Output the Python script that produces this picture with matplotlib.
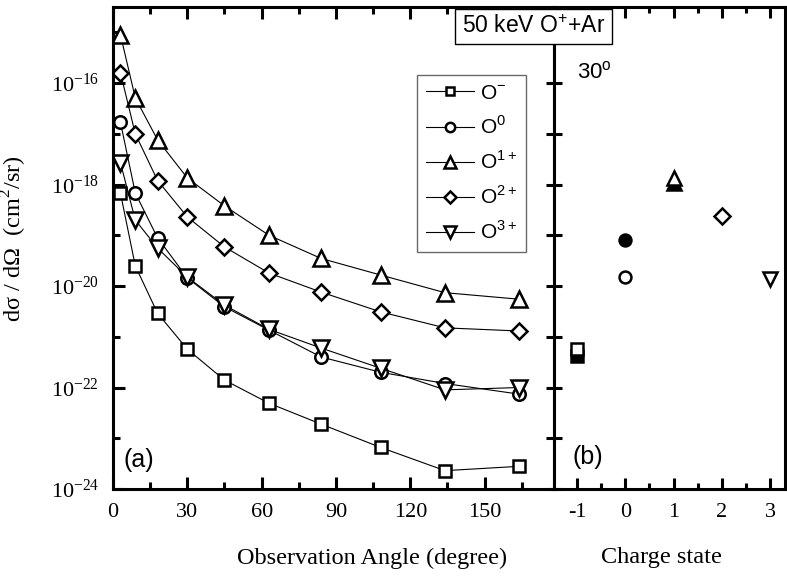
import matplotlib
matplotlib.use("Agg")
import matplotlib.pyplot as plt
from matplotlib.ticker import MultipleLocator, FuncFormatter, NullFormatter, FixedLocator
import numpy as np

plt.rcParams['axes.unicode_minus'] = False

# ---------------- data ----------------
angles = [3, 9, 18, 30, 45, 63, 84, 108, 134, 164]
o_minus = [6.8e-19, 2.5e-20, 2.9e-21, 5.7e-22, 1.4e-22, 4.9e-23, 1.9e-23, 6.6e-24, 2.3e-24, 2.8e-24]
o_zero = [1.7e-17, 6.8e-19, 8.9e-20, 1.45e-20, 3.9e-21, 1.35e-21, 4.0e-22, 2.0e-22, 1.2e-22, 7.4e-23]
o_one = [9.0e-16, 5.1e-17, 7.6e-18, 1.35e-18, 3.8e-19, 1.0e-19, 3.5e-20, 1.65e-20, 7.4e-21, 5.5e-21]
o_two = [1.6e-16, 1.0e-17, 1.2e-18, 2.3e-19, 5.9e-20, 1.8e-20, 7.6e-21, 3.1e-21, 1.5e-21, 1.3e-21]
o_three = [2.7e-18, 2.0e-19, 5.6e-20, 1.5e-20, 4.2e-21, 1.4e-21, 6.0e-22, 2.4e-22, 9.0e-23, 1.0e-22]

series_labels = ["O$^{\\mathdefault{-}}$", "O$^{\\mathdefault{0}}$", "O$^{\\mathdefault{1+}}$",
                 "O$^{\\mathdefault{2+}}$", "O$^{\\mathdefault{3+}}$"]

charge_open = [-1, 0, 1, 2, 3]
value_open = [5.7e-22, 1.5e-20, 1.35e-18, 2.4e-19, 1.4e-20]
charge_filled = [-1, 0, 1]
value_filled = [4.2e-22, 8.1e-20, 1.07e-18]

x_ticks_a = [0, 30, 60, 90, 120, 150]
x_ticks_b = [-1, 0, 1, 2, 3]
y_major = [1e-24, 1e-22, 1e-20, 1e-18, 1e-16]
y_decades = [1e-24, 1e-23, 1e-22, 1e-21, 1e-20, 1e-19, 1e-18, 1e-17, 1e-16, 1e-15]

# ---------------- style ----------------
serif = ['Liberation Serif', 'DejaVu Serif']
sans = ['Liberation Sans', 'DejaVu Sans']
markers = ['s', 'o', '^', 'D', 'v']
msizes = [8.5, 9, 11, 8.5, 11]
SPW = 2.2

fig = plt.figure(figsize=(7.87, 5.81), dpi=100)
ax1 = fig.add_axes([113/787, 92/581, 441/787, 482/581])
ax2 = fig.add_axes([554/787, 92/581, 231/787, 482/581])

all_series = [o_minus, o_zero, o_one, o_two, o_three]
for ys, m, ms, lab in zip(all_series, markers, msizes, series_labels):
    ax1.plot(angles, ys, color='black', lw=0.8, marker=m, ms=ms, mfc='white',
             mec='black', mew=1.8, label=lab)

ax1.set_yscale('log')
ax1.set_ylim(1e-24, 10**-14.5)
ax1.set_xlim(0, 178)

ax1.xaxis.set_major_locator(FixedLocator(x_ticks_a))
ax1.xaxis.set_minor_locator(MultipleLocator(15))
ax1.yaxis.set_major_locator(FixedLocator(y_major))
ax1.yaxis.set_minor_locator(FixedLocator(y_decades))
ax1.yaxis.set_minor_formatter(NullFormatter())


def logfmt(v, pos):
    e = int(round(np.log10(v)))
    return "$\\mathdefault{10^{%d}}$" % e


ax1.yaxis.set_major_formatter(FuncFormatter(logfmt))
ax1.xaxis.set_major_formatter(FuncFormatter(lambda v, p: "%d" % v))

ax1.tick_params(which='both', direction='in', top=True, right=False, width=SPW)
ax1.tick_params(which='major', length=8.5, labelsize=16, pad=10)
ax1.tick_params(which='minor', length=5)
for t in ax1.get_xticklabels() + ax1.get_yticklabels():
    t.set_family(serif)
for s in ax1.spines.values():
    s.set_linewidth(SPW)

ax1.set_ylabel("dσ / dΩ  (cm$^{\\mathdefault{2}}$/sr)", family=serif, fontsize=17.5)
ax1.yaxis.set_label_coords(-0.19, 0.52)
ax1.set_xlabel("Observation Angle (degree)", family=serif, fontsize=17.5, va='center')
ax1.xaxis.set_label_coords(0.587, -0.143)

leg = ax1.legend(loc='upper left', bbox_to_anchor=(0.689, 0.859), borderaxespad=0,
                 prop={'family': sans, 'size': 15}, frameon=True, fancybox=False,
                 handlelength=2.3, handletextpad=0.3, labelspacing=0.6,
                 borderpad=0.42, markerscale=0.75)
leg.get_frame().set_edgecolor('#444444')
leg.get_frame().set_linewidth(1.0)

ax1.text(0.023, 0.06, "(a)", transform=ax1.transAxes, family=sans, fontsize=18,
         ha='left', va='center')

# ---------------- panel b ----------------
for c, v in zip(charge_filled, value_filled):
    m = markers[c + 1]
    ax2.plot([c], [v], ls='none', marker=m, ms=msizes[c + 1] * 0.95, mfc='black',
             mec='black', mew=1.8, zorder=3)
for c, v in zip(charge_open, value_open):
    m = markers[c + 1]
    ax2.plot([c], [v], ls='none', marker=m, ms=msizes[c + 1] * 0.95, mfc='white',
             mec='black', mew=1.8, zorder=4)

ax2.set_yscale('log')
ax2.set_ylim(1e-24, 10**-14.5)
ax2.set_xlim(-1.48, 3.31)
ax2.xaxis.set_major_locator(FixedLocator(x_ticks_b))
ax2.xaxis.set_minor_locator(MultipleLocator(0.5))
ax2.xaxis.set_major_formatter(FuncFormatter(lambda v, p: "%d" % v))
ax2.yaxis.set_major_locator(FixedLocator(y_decades))
ax2.yaxis.set_minor_locator(FixedLocator(y_decades))
ax2.yaxis.set_major_formatter(NullFormatter())
ax2.yaxis.set_minor_formatter(NullFormatter())
ax2.tick_params(axis='x', which='both', direction='in', top=True, width=SPW)
ax2.tick_params(axis='x', which='major', length=8, labelsize=16, pad=10)
ax2.tick_params(axis='x', which='minor', length=4)
ax2.tick_params(axis='y', which='major', direction='inout', left=True, right=False,
                length=12, width=SPW)
ax2.tick_params(axis='y', which='minor', direction='in', left=False, right=True,
                length=2, width=SPW)
for t in ax2.get_xticklabels():
    t.set_family(serif)
for s in ax2.spines.values():
    s.set_linewidth(SPW)
ax2.set_xlabel("Charge state", family=serif, fontsize=17.5, va='center')
ax2.xaxis.set_label_coords(0.463, -0.143)

ax2.text(0.078, 0.066, "(b)", transform=ax2.transAxes, family=sans, fontsize=18,
         ha='left', va='center')
ax2.text(0.10, 0.865, "30$^{\\mathdefault{o}}$", transform=ax2.transAxes, family=sans,
         fontsize=16, ha='left', va='center')

fig.text(533.5/787, 1 - 26.5/581, "50 keV O$^{\\mathdefault{+}}$+Ar", family=sans,
         fontsize=16.5, ha='center', va='center', zorder=10,
         bbox=dict(boxstyle='square,pad=0.28', facecolor='white', edgecolor='black',
                   linewidth=1.0))

fig.savefig("out.png", dpi=100)
